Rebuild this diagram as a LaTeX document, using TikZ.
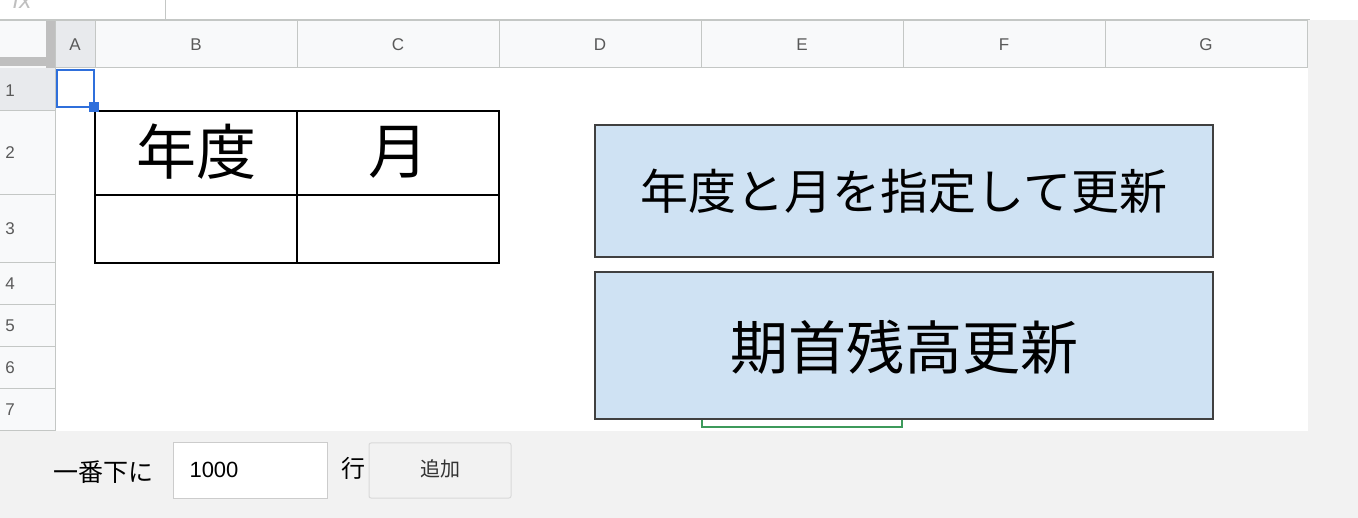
\documentclass[tikz,border=0pt]{standalone}
\usepackage{fontspec}
\setmainfont{Noto Sans CJK JP}
\newfontfamily\latinf{Liberation Sans}
\definecolor{hdr}{HTML}{F8F9FA}
\definecolor{hdrsel}{HTML}{E8EAED}
\definecolor{hline}{HTML}{C4C7C5}
\definecolor{btn}{HTML}{CFE2F3}
\definecolor{selb}{HTML}{2F6FDB}
\definecolor{barbg}{HTML}{F2F2F2}
\definecolor{gr}{HTML}{3D9A5B}
\tikzset{
  hlab/.style={font=\latinf\fontsize{17}{17}\selectfont, text=black!65},
  bigbtn/.style={draw=black!75, line width=1.5pt, fill=btn},
}
\begin{document}
\begin{tikzpicture}[x=1pt,y=-1pt]
\useasboundingbox (0,0) rectangle (1358,518);
\clip (0,0) rectangle (1358,518);
\fill[white] (0,0) rectangle (1358,518);
% top bar
\node[font=\latinf\itshape\fontsize{24}{24}\selectfont, text=black!25] (fx) at (22,0) {fx};
\draw[hline] (165,0) -- (165,19);
\draw[hline,line width=2pt] (0,20) -- (1310,20);
% right gray and bottom bar
\fill[barbg] (1308,20) rectangle (1358,518);
\fill[barbg] (0,431) rectangle (1358,518);
% column headers
\fill[hdr] (0,21) rectangle (1308,68);
\fill[hdrsel] (55,21) rectangle (95,68);
\fill[hdr] (0,68) rectangle (55,431);
\fill[hdrsel] (0,68) rectangle (55,111);
% corner
\fill[black!25] (46,21) rectangle (55,68);
\fill[black!25] (0,57) rectangle (55,66);
% header lines
\foreach \x in {95,297,499,701,903,1105,1307}{\draw[hline,line width=1pt] (\x,21) -- (\x,68);}
\draw[hline,line width=1pt] (55,68) -- (1308,68);
\foreach \y in {111,195,263,305,347,389,431}{\draw[hline,line width=1pt] (0,\y) -- (55,\y);}
\draw[hline,line width=1pt] (55,21) -- (55,431);
% header labels
\node[hlab] (hA) at (75,45) {A};
\node[hlab] (hB) at (196,45) {B};
\node[hlab] (hC) at (398,45) {C};
\node[hlab] (hD) at (600,45) {D};
\node[hlab] (hE) at (802,45) {E};
\node[hlab] (hF) at (1004,45) {F};
\node[hlab] (hG) at (1206,45) {G};
\node[hlab] (r1) at (10,91) {1};
\node[hlab] (r2) at (10,153) {2};
\node[hlab] (r3) at (10,229) {3};
\node[hlab] (r4) at (10,284) {4};
\node[hlab] (r5) at (10,326) {5};
\node[hlab] (r6) at (10,368) {6};
\node[hlab] (r7) at (10,410) {7};
% table
\draw[black,line width=1.6pt] (95,111) rectangle (499,263);
\draw[black,line width=1.6pt] (297,111) -- (297,263);
\draw[black,line width=1.6pt] (95,195) -- (499,195);
\node[font=\fontsize{60}{60}\selectfont] (nendo) at (196,152) {年度};
\node[font=\fontsize{60}{60}\selectfont] (tsuki) at (398,152) {月};
% selection A1
\draw[selb,line width=2.5pt] (57,70) rectangle (94,107);
\fill[selb] (89,102) rectangle (99,112);
% green partial selection
\draw[gr,line width=2.5pt] (702,418) -- (702,427) -- (902,427) -- (902,418);
% buttons
\draw[bigbtn] (595,125) rectangle (1213,257);
\node[font=\fontsize{48}{48}\selectfont] (b1) at (904,191) {年度と月を指定して更新};
\draw[bigbtn] (595,272) rectangle (1213,419);
\node[font=\fontsize{58}{58}\selectfont] (b2) at (904,347) {期首残高更新};
% bottom controls
\node[font=\fontsize{25}{25}\selectfont, anchor=west] (ichi) at (50,472) {一番下に};
\draw[black!20,line width=1pt,fill=white] (173,443) rectangle (327,498);
\node[font=\latinf\fontsize{22}{22}\selectfont, anchor=west] (val) at (186,470) {1000};
\node[font=\fontsize{24}{24}\selectfont, anchor=west] (gyo) at (338,468) {行};
\draw[black!15,line width=1pt,fill=black!5,rounded corners=2pt] (369,443) rectangle (511,498);
\node[font=\fontsize{20}{20}\selectfont, text=black!80] (tsuika) at (440,469) {追加};
\end{tikzpicture}
\end{document}
